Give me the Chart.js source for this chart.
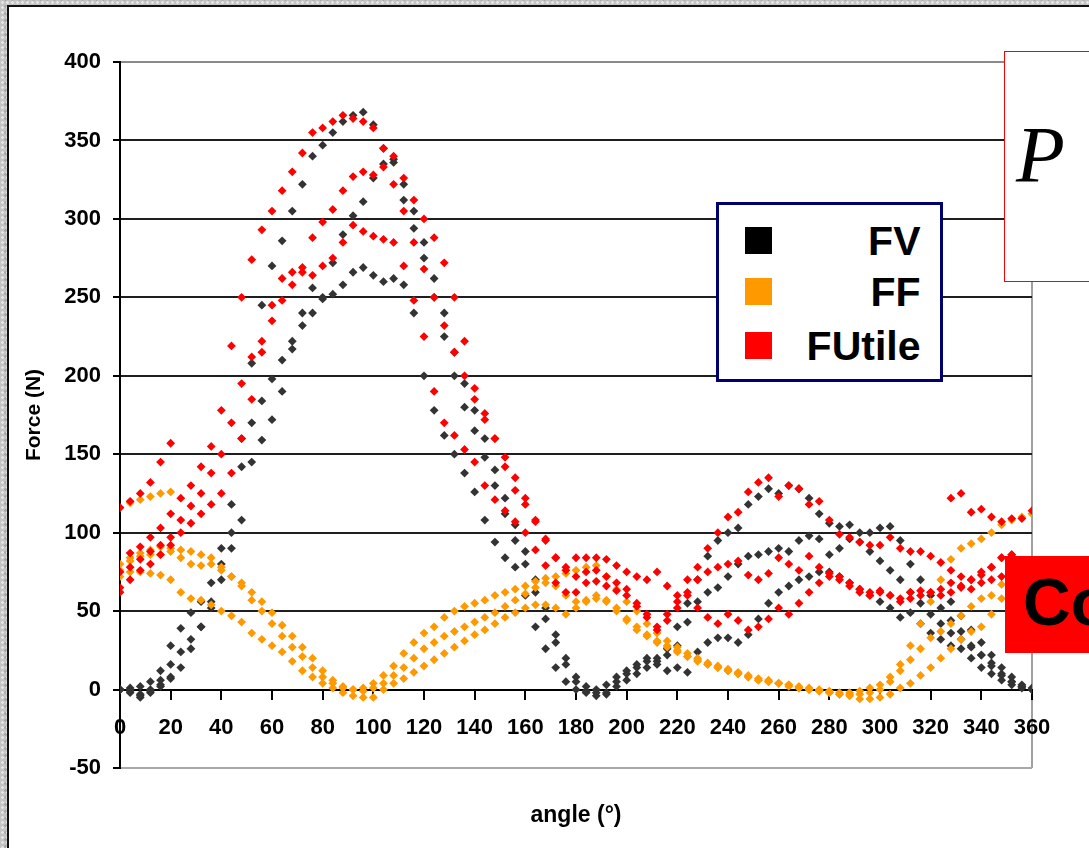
<!DOCTYPE html>
<html>
<head>
<meta charset="utf-8">
<script src="https://cdn.jsdelivr.net/npm/chart.js@4.4.1/dist/chart.umd.min.js"></script>
<style>
    html, body { margin: 0; padding: 0; }
    body {
        width: 1089px; height: 848px; overflow: hidden; position: relative;
        background-color: #c4c4c4;
        background-image: radial-gradient(#e6e6e6 1px, transparent 1.6px), radial-gradient(#a8a8a8 1px, transparent 1.6px);
        background-size: 5px 5px, 7px 7px;
        background-position: 0 0, 2px 3px;
        font-family: "Liberation Sans", Arial, sans-serif;
    }
    #panel { position: absolute; left: 7px; top: 5px; width: 1200px; height: 1000px; background: #fff; border: 2px solid #111; }
    #chart-canvas { position: absolute; left: 0; top: 0; }
    #legend { position: absolute; left: 716px; top: 202px; width: 227px; height: 180px; box-sizing: border-box; border: 3.5px solid #00006e; background: #fff; }
    .legend-row { position: absolute; left: 25.5px; right: 19.5px; height: 40px; }
    .legend-swatch { position: absolute; left: 0; top: 6.5px; width: 27px; height: 27px; }
    .legend-text { position: absolute; right: 0; top: 0; font-size: 41px; line-height: 40px; font-weight: bold; color: #000; }
    #p-box { position: absolute; left: 1004px; top: 51px; width: 200px; height: 231px; box-sizing: border-box; border: 1.5px solid #ff0000; background: #fff; }
    #p-box span { position: absolute; left: 11px; top: 63px; font-family: "Liberation Serif", "DejaVu Serif", serif; font-style: italic; font-size: 80px; line-height: 80px; color: #000; }
    #co-box { position: absolute; left: 1005px; top: 556px; width: 200px; height: 97px; background: #ff0000; }
    #co-box span { position: absolute; left: 18px; top: 13px; font-size: 66px; line-height: 66px; font-weight: bold; color: #000; }
</style>
</head>
<body>
<div id="panel"></div>
<canvas id="chart-canvas" width="1089" height="848"></canvas>
<div id="legend"></div>
<div id="p-box"><span>P</span></div>
<div id="co-box"><span>Co</span></div>

<script>
// angles (deg) shared by the three recorded turns of each force
const angles = [0, 4, 8, 12, 16, 20, 24, 28, 32, 36, 40, 44, 48, 52, 56, 60, 64, 68, 72, 76,
    80, 84, 88, 92, 96, 100, 104, 108, 112, 116, 120, 124, 128, 132, 136, 140, 144, 148, 152, 156,
    160, 164, 168, 172, 176, 180, 184, 188, 192, 196, 200, 204, 208, 212, 216, 220, 224, 228, 232, 236,
    240, 244, 248, 252, 256, 260, 264, 268, 272, 276, 280, 284, 288, 292, 296, 300, 304, 308, 312, 316,
    320, 324, 328, 332, 336, 340, 344, 348, 352, 356, 360];
// the extra partial turn at the start / end of the recording
const tailEndAngles = [328, 332, 336, 340, 344, 348, 352, 356, 360];
const tailStartAngles = [0, 4, 8, 12, 16, 20];

// FV
const fvTurn1 = [0, 1, 2, 5, 12, 28, 39, 49, 56, 68, 90, 118, 160, 208, 245, 270, 286, 305, 322, 340,
    347, 355, 362, 366, 368, 360, 345, 336, 322, 305, 285, 262, 240, 215, 195, 178, 160, 140, 122, 105,
    88, 70, 52, 35, 20, 8, 2, -2, -3, 2, 6, 10, 14, 18, 26, 40, 55, 70, 85, 95,
    100, 103, 118, 123, 128, 125, 130, 128, 122, 112, 106, 104, 105, 100, 100, 103, 104, 95, 80, 70,
    60, 52, 44, 37, 27, 22, 17, 10, 5, 2, 0];
const fvTurn2 = [0, -2, -3, 0, 6, 16, 24, 32, 40, 56, 80, 100, 142, 170, 184, 198, 210, 222, 232, 240,
    250, 272, 290, 302, 311, 326, 335, 338, 312, 294, 275, 250, 225, 200, 180, 165, 148, 130, 112, 95,
    80, 62, 45, 30, 16, 5, -1, -4, -2, 5, 10, 14, 18, 20, 22, 28, 43, 56, 62, 65,
    72, 80, 85, 86, 88, 90, 88, 95, 98, 96, 86, 90, 96, 94, 88, 82, 76, 70, 62, 55,
    48, 42, 36, 32, 28, 22, 15, 9, 5, 2, 0];
const fvTurn3 = [0, 0, -4, -2, 2, 7, 14, 26, 40, 52, 70, 90, 108, 145, 159, 172, 190, 217, 240, 256,
    249, 252, 258, 266, 269, 264, 260, 262, 258, 240, 200, 178, 162, 150, 138, 126, 108, 94, 84, 78,
    60, 40, 26, 14, 5, 0, -2, 0, 3, 8, 12, 16, 20, 16, 12, 14, 11, 24, 30, 33,
    33, 30, 35, 45, 55, 62, 66, 70, 72, 75, 75, 72, 68, 64, 60, 56, 52, 46, 49, 42,
    36, 32, 28, 26, 20, 14, 10, 6, 3, 1, 0];
const fvTailEnd = [56, 47, 38, 30, 22, 14, 8, 3, 1];
const fvTailStart = [0, -1, -5, -1, 3, 8];

// FF
const ffTurn1 = [76, 82, 87, 89, 91, 90, 89, 88, 86, 84, 78, 72, 66, 57, 50, 42, 34, 27, 21, 14,
    8, 4, 1, 0, 1, 4, 9, 15, 23, 30, 36, 40, 46, 50, 53, 55, 57, 60, 62, 64,
    66, 69, 71, 72, 74, 76, 78, 79, 72, 64, 56, 50, 42, 36, 31, 27, 23, 20, 17, 15,
    13, 11, 9, 7, 6, 4, 3, 2, 1, 0, -1, -2, -2, -1, 1, 3, 8, 16, 28, 42,
    56, 70, 83, 90, 93, 96, 100, 105, 108, 110, 112];
const ffTurn2 = [80, 84, 85, 86, 86, 88, 84, 80, 79, 80, 76, 72, 68, 62, 56, 49, 41, 34, 27, 20,
    12, 6, 2, 0, -1, 1, 4, 9, 14, 20, 26, 30, 34, 37, 40, 43, 46, 49, 53, 57,
    61, 65, 68, 66, 60, 56, 57, 58, 56, 50, 44, 38, 34, 30, 27, 24, 21, 19, 16, 14,
    12, 10, 8, 6, 5, 4, 3, 1, 0, -1, -2, -3, -3, -3, -2, 0, 5, 12, 19, 26,
    33, 37, 42, 47, 53, 58, 60, 67, 73, 76, 79];
const ffTurn3 = [72, 75, 75, 74, 73, 70, 62, 58, 57, 54, 50, 47, 43, 36, 32, 28, 24, 18, 12, 8,
    4, 1, -2, -4, -5, -5, 0, 4, 7, 11, 15, 19, 23, 27, 31, 35, 38, 42, 46, 49,
    52, 54, 54, 52, 48, 52, 56, 60, 57, 52, 45, 40, 35, 31, 28, 25, 21, 18, 16, 14,
    12, 10, 8, 6, 5, 4, 2, 1, 0, -1, -2, -3, -4, -6, -6, -5, -3, 1, 4, 9,
    14, 20, 26, 32, 37, 40, 48, 58, 63, 67, 70];
const ffTailStart = [116, 119, 121, 123, 125, 126];

// FUtile
const fuTurn1 = [75, 87, 91, 97, 103, 112, 122, 130, 142, 155, 178, 219, 250, 274, 293, 305, 318, 330, 342, 355,
    358, 362, 366, 364, 362, 358, 345, 340, 326, 312, 300, 288, 272, 250, 222, 192, 176, 160, 142, 127,
    118, 107, 96, 84, 78, 84, 84, 84, 83, 79, 75, 72, 70, 75, 66, 60, 70, 78, 90, 100,
    110, 113, 126, 132, 135, 123, 130, 128, 118, 120, 108, 99, 97, 94, 92, 92, 97, 90, 88, 88,
    85, 81, 76, 72, 70, 75, 78, 84, 86, 80, 76];
const fuTurn2 = [65, 78, 83, 88, 92, 97, 108, 117, 125, 138, 150, 170, 195, 212, 222, 235, 248, 258, 269, 288,
    298, 306, 318, 327, 330, 328, 333, 322, 305, 285, 268, 250, 232, 215, 200, 185, 172, 160, 148, 135,
    122, 108, 95, 84, 76, 72, 75, 76, 72, 68, 64, 55, 48, 40, 48, 56, 62, 70, 75, 78,
    80, 82, 73, 70, 74, 84, 80, 76, 85, 78, 74, 72, 68, 64, 62, 63, 60, 58, 62, 63,
    62, 64, 68, 66, 70, 73, 78, 84, 86, 80, 72];
const fuTurn3 = [62, 70, 76, 80, 86, 92, 100, 106, 112, 118, 125, 138, 160, 185, 215, 245, 262, 266, 266, 264,
    270, 275, 285, 296, 292, 289, 287, 285, 270, 248, 225, 190, 170, 162, 153, 145, 130, 121, 114, 107,
    100, 89, 79, 68, 62, 62, 68, 69, 66, 63, 60, 53, 46, 38, 44, 52, 60, 52, 46, 42,
    48, 44, 38, 40, 45, 52, 48, 55, 62, 68, 72, 70, 66, 62, 60, 62, 60, 56, 58, 60,
    62, 60, 62, 65, 64, 68, 70, 72, 70, 68, 65];
const fuTailEnd = [122, 125, 113, 115, 110, 107, 109, 109, 114];
const fuTailStart = [116, 120, 125, 132, 145, 157];

const seriesNames = ["FV", "FF", "FUtile"];
const pointColors = ["#333333", "#ff9900", "#ff0000"];
const legendColors = ["#000000", "#ff9900", "#ff0000"];

// axis ranges
const xMin = 0, xMax = 360, xStep = 20;
const yMin = -50, yMax = 400, yStep = 50;
const xTitle = "angle (°)";
const yTitle = "Force (N)";

// joins an angle list and a value list into scatter points
function pairUp(xs, ys) {
    return ys.map(function (v, i) {
        return { x: xs[i], y: v };
    });
}

const fvPoints = [].concat(pairUp(angles, fvTurn1), pairUp(angles, fvTurn2), pairUp(angles, fvTurn3),
    pairUp(tailEndAngles, fvTailEnd), pairUp(tailStartAngles, fvTailStart));
const ffPoints = [].concat(pairUp(angles, ffTurn1), pairUp(angles, ffTurn2), pairUp(angles, ffTurn3),
    pairUp(tailStartAngles, ffTailStart));
const fuPoints = [].concat(pairUp(angles, fuTurn1), pairUp(angles, fuTurn2), pairUp(angles, fuTurn3),
    pairUp(tailEndAngles, fuTailEnd), pairUp(tailStartAngles, fuTailStart));

Chart.defaults.font.family = '"Liberation Sans", Arial, sans-serif';
Chart.defaults.color = "#000";

const tickFont = { size: 22, weight: "bold" };

const chart = new Chart(document.getElementById("chart-canvas").getContext("2d"), {
    type: "scatter",
    data: {
        datasets: [fvPoints, ffPoints, fuPoints].map(function (pts, i) {
            return {
                label: seriesNames[i],
                data: pts,
                backgroundColor: pointColors[i],
                borderWidth: 0,
                pointStyle: "rectRot",
                pointRadius: 4.4,
                showLine: false,
                order: 3 - i
            };
        })
    },
    options: {
        responsive: false,
        animation: false,
        layout: { padding: { left: 10, top: 62, right: 57, bottom: 80 } },
        plugins: {
            legend: { display: false },
            tooltip: { enabled: false }
        },
        scales: {
            x: {
                type: "linear",
                position: { y: 0 },
                min: xMin,
                max: xMax,
                ticks: { stepSize: xStep, autoSkip: false, maxRotation: 0, padding: 16, font: tickFont, color: "#000" },
                grid: {
                    color: function (ctx) {
                        return ctx.tick && ctx.tick.value === xMax ? "#a0a0a0" : "rgba(0,0,0,0)";
                    },
                    lineWidth: 2,
                    tickColor: "#000",
                    tickLength: 9,
                    tickWidth: 2
                },
                border: { display: true, color: "#000", width: 2 },
                title: { display: true, text: xTitle, color: "#000", font: { size: 23, weight: "bold" }, padding: { top: 45, bottom: 0 } }
            },
            y: {
                type: "linear",
                min: yMin,
                max: yMax,
                afterFit: function (scale) { scale.width = 110; },
                ticks: { stepSize: yStep, padding: 12, font: tickFont, color: "#000" },
                grid: {
                    color: function (ctx) {
                        if (!ctx.tick) return "#1e1e1e";
                        if (ctx.tick.value === yMax) return "#8a8a8a";
                        if (ctx.tick.value === yMin) return "#a8a8a8";
                        return "#1e1e1e";
                    },
                    lineWidth: 2,
                    tickColor: "#000",
                    tickLength: 7,
                    tickWidth: 2
                },
                border: { display: true, color: "#000", width: 2 },
                title: { display: true, text: yTitle, color: "#000", font: { size: 21, weight: "bold" }, padding: { top: 12, bottom: 0 } }
            }
        }
    }
});

// legend box drawn from the chart's own datasets
const legendBox = document.getElementById("legend");
chart.data.datasets.forEach(function (ds, i) {
    const row = document.createElement("div");
    row.className = "legend-row";
    row.style.top = [15.5, 66.5, 120.5][i] + "px";
    const swatch = document.createElement("div");
    swatch.className = "legend-swatch";
    swatch.style.background = legendColors[i];
    const text = document.createElement("div");
    text.className = "legend-text";
    text.textContent = ds.label;
    row.appendChild(swatch);
    row.appendChild(text);
    legendBox.appendChild(row);
});
</script>
</body>
</html>
